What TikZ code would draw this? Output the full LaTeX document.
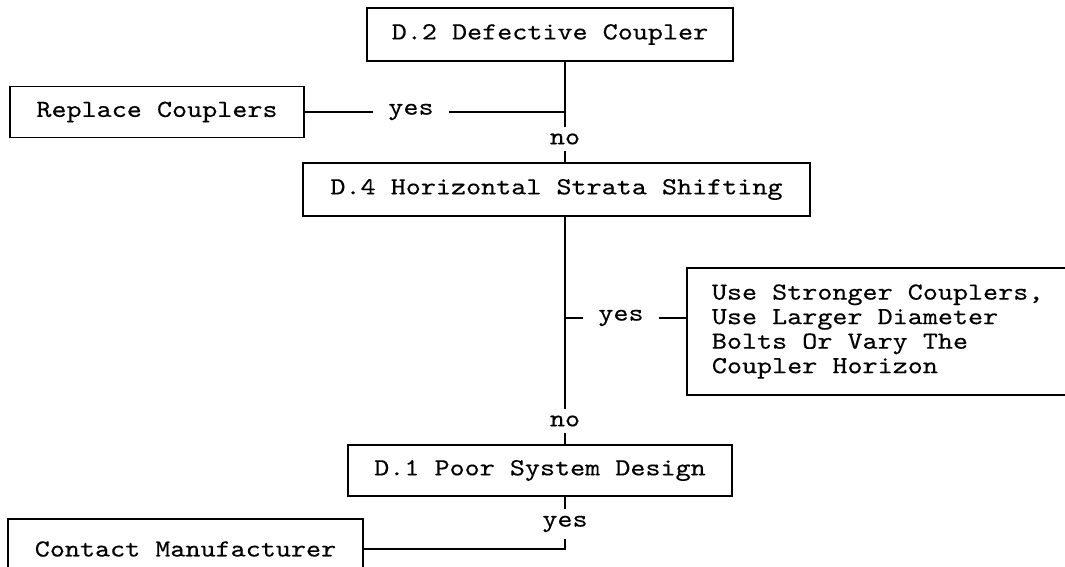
\documentclass[tikz,border=0pt]{standalone}
\usepackage{fontspec}
\newfontfamily\courfont[FakeStretch=1.17, FakeBold=0.3]{lmmono10-regular.otf}
\newcommand{\chartfont}{\courfont\fontsize{18.4}{18.4}\selectfont}
\begin{document}
\begin{tikzpicture}[x=0.75pt, y=-0.75pt,
    box/.style={draw, line width=1.3pt, font=\chartfont, inner sep=0pt},
    lab/.style={font=\chartfont, inner xsep=11pt, inner ysep=5pt},
    conn/.style={line width=1.3pt}]

        \useasboundingbox (0,0) rectangle (1065,567);

        % Boxes
        \node[box, minimum width=274.5pt, minimum height=39.75pt] (d2) at (550,34.5) {D.2 Defective Coupler};
        \node[box, minimum width=220.5pt, minimum height=38.25pt] (replace) at (157,112) {Replace Couplers};
        \node[box, minimum width=380.25pt, minimum height=39.75pt] (d4) at (556.5,189.5) {D.4 Horizontal Strata Shifting};
        \node[box, anchor=west, minimum width=315pt, minimum height=95.25pt,
              inner xsep=18.75pt, text width=277.5pt, align=flush left] (stronger) at (686,331.5)
              {Use Stronger Couplers,\\Use Larger Diameter\\Bolts Or Vary The\\Coupler Horizon};
        \node[box, minimum width=288pt, minimum height=38.25pt] (d1) at (540,470.5) {D.1 Poor System Design};
        \node[box, minimum width=266.25pt, minimum height=45pt] (contact) at (185.5,549) {Contact Manufacturer};

        % Labels
        \node[lab] (no1) at (565,139) {no};
        \node[lab] (yes1) at (411,112) {yes};
        \node[lab] (yes2) at (621,318) {yes};
        \node[lab] (no2) at (565,421) {no};
        \node[lab] (yes3) at (565,524) {yes};

        % Junctions
        \coordinate (j1) at (565,112);
        \coordinate (j2) at (565,318);
        \coordinate (j3) at (565,549);

        % D.2 branches
        \draw[conn] (d2.south -| no1) -- (no1.north);
        \draw[conn] (replace.east) -- (yes1.west);
        \draw[conn] (yes1.east) -- (j1);
        \draw[conn] (no1.south) -- (d4.north -| no1);

        % D.4 branches
        \draw[conn] (d4.south -| no2) -- (no2.north);
        \draw[conn] (j2) -- (yes2.west);
        \draw[conn] (yes2.east) -- (stronger.west |- yes2);
        \draw[conn] (no2.south) -- (d1.north -| no2);

        % D.1 branch
        \draw[conn] (d1.south -| yes3) -- (yes3.north);
        \draw[conn] (yes3.south) -- (j3) -- (contact.east);

    \end{tikzpicture}
\end{document}
